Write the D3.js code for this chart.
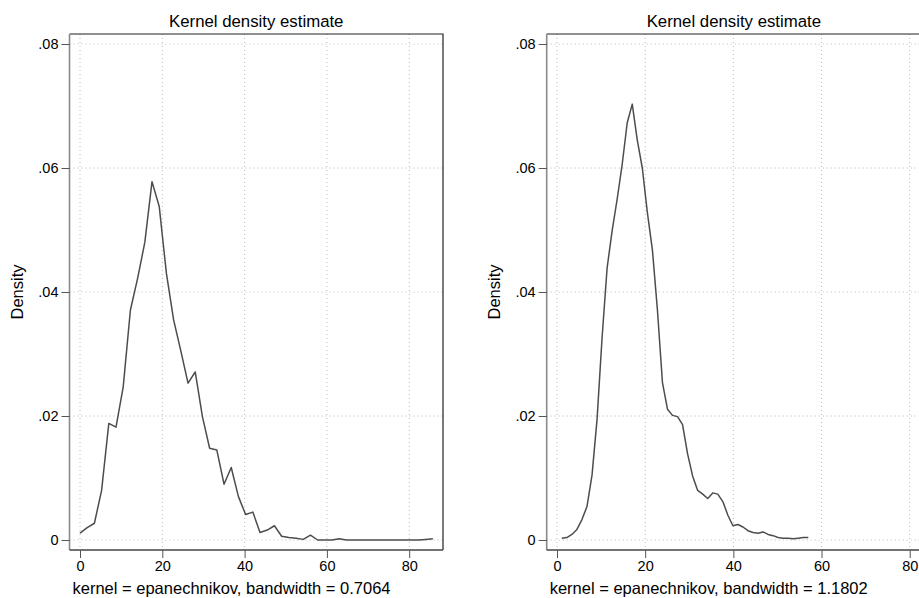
<!DOCTYPE html>
<html lang="en">
<head>
  <meta charset="UTF-8">
  <title>Kernel density estimate</title>
  <style>
    body {
      margin: 0;
      padding: 0;
      background: #ffffff;
      font-family: 'Liberation Sans', Arial, Helvetica, sans-serif;
    }
    svg { display: block; }
    .grid line { stroke: #b8b8b8; stroke-width: 1; stroke-dasharray: 1 3; }
  </style>
</head>
<body>

<svg width="919" height="598"></svg>

<script src="https://d3js.org/d3.v7.min.js"></script>
<script>
  const width = 919, height = 598;

  // left panel: bandwidth 0.7064
  const leftX = [0, 1.75, 3.5, 5.25, 7, 8.75, 10.5, 12.25, 14, 15.75,
    17.5, 19.25, 21, 22.75, 24.5, 26.25, 28, 29.75, 31.5, 33.25,
    35, 36.75, 38.5, 40.25, 42, 43.75, 45.5, 47.25, 49, 50.75,
    52.5, 54.25, 56, 57.75, 59.5, 61.25, 63, 64.75, 66.5, 68.25,
    70, 71.75, 73.5, 75.25, 77, 78.75, 80.5, 82.25, 84, 85.75];
  const leftDensity = [0.0011, 0.0020, 0.0027, 0.0080, 0.0188, 0.0182, 0.0247, 0.0371, 0.0422, 0.0480,
    0.0578, 0.0538, 0.0430, 0.0355, 0.0305, 0.0253, 0.0271, 0.0199, 0.0148, 0.0145,
    0.0090, 0.0117, 0.0070, 0.0041, 0.0045, 0.0012, 0.0016, 0.0023, 0.0006, 0.0004,
    0.0003, 0.0001, 0.0008, 0.0000, 0.0000, 0.0000, 0.0002, 0.0000, 0.0000, 0.0000,
    0.0000, 0.0000, 0.0000, 0.0000, 0.0000, 0.0000, 0.0000, 0.0000, 0.0001, 0.0002];

  // right panel: bandwidth 1.1802
  const rightX = [1.10, 2.24, 3.38, 4.52, 5.66, 6.80, 7.95, 9.09, 10.23, 11.37,
    12.51, 13.65, 14.79, 15.93, 17.07, 18.21, 19.35, 20.50, 21.64, 22.78,
    23.92, 25.06, 26.20, 27.34, 28.48, 29.62, 30.77, 31.91, 33.05, 34.19,
    35.33, 36.47, 37.61, 38.76, 39.90, 41.04, 42.18, 43.32, 44.46, 45.60,
    46.74, 47.88, 49.02, 50.16, 51.30, 52.44, 53.58, 54.72, 55.86, 57.00];
  const rightDensity = [0.0003, 0.0004, 0.0009, 0.0017, 0.0033, 0.0054, 0.0105, 0.0195, 0.0327, 0.0439,
    0.0499, 0.0550, 0.0606, 0.0673, 0.0703, 0.0645, 0.0600, 0.0528, 0.0468, 0.0371,
    0.0254, 0.0211, 0.0201, 0.0199, 0.0186, 0.0139, 0.0103, 0.0080, 0.0074, 0.0067,
    0.0076, 0.0074, 0.0062, 0.0040, 0.0023, 0.0025, 0.0021, 0.0015, 0.0012, 0.0011,
    0.0013, 0.0009, 0.0007, 0.0004, 0.0003, 0.0003, 0.0002, 0.0003, 0.0004, 0.0004];

  const xTicks = [0, 20, 40, 60, 80];
  const yTicks = [0, 0.02, 0.04, 0.06, 0.08];
  const yTickLabels = ["0", ".02", ".04", ".06", ".08"];

  const panels = [
    { xs: leftX, ys: leftDensity, note: "kernel = epanechnikov, bandwidth = 0.7064",
      frameL: 69.5, frameR: 443, x0: 80, x80: 409.2 },
    { xs: rightX, ys: rightDensity, note: "kernel = epanechnikov, bandwidth = 1.1802",
      frameL: 546.7, frameR: 921, x0: 557, x80: 909.7 }
  ];

  const frameTop = 34, frameBottom = 550;
  const font = "'Liberation Sans', Arial, sans-serif";
  const svg = d3.select("svg");

  panels.forEach(p => {
    const g = svg.append("g");
    const x = d3.scaleLinear().domain([0, 80]).range([p.x0, p.x80]);
    const y = d3.scaleLinear().domain([0, 0.08]).range([540, 44]);

    // gridlines
    const grid = g.append("g").attr("class", "grid");
    grid.selectAll("line.v").data(xTicks).enter().append("line")
      .attr("x1", d => x(d)).attr("x2", d => x(d))
      .attr("y1", frameTop).attr("y2", frameBottom);
    grid.selectAll("line.h").data(yTicks).enter().append("line")
      .attr("x1", p.frameL).attr("x2", p.frameR)
      .attr("y1", d => y(d)).attr("y2", d => y(d));

    // frame (top / right)
    g.append("path")
      .attr("d", `M${p.frameL},${frameTop}H${p.frameR}V${frameBottom}`)
      .attr("fill", "none").attr("stroke", "#222").attr("stroke-width", 1.2);

    // y axis
    const yAxis = g.append("g")
      .attr("transform", `translate(${p.frameL},0)`)
      .call(d3.axisLeft(y).tickValues(yTicks).tickSize(8).tickPadding(3)
        .tickFormat((d, i) => yTickLabels[i]));
    yAxis.select(".domain").attr("d", `M0,${frameTop}V${frameBottom}`)
      .attr("stroke", "#8a8a8a").attr("stroke-width", 1.6);
    yAxis.selectAll(".tick line").attr("stroke", "#555");
    yAxis.selectAll(".tick text").attr("fill", "#000")
      .style("font-family", font).style("font-size", "14.5px");

    // x axis
    const xAxis = g.append("g")
      .attr("transform", `translate(0,${frameBottom})`)
      .call(d3.axisBottom(x).tickValues(xTicks).tickSize(8).tickPadding(3));
    xAxis.select(".domain").attr("d", `M${p.frameL},0H${p.frameR}`)
      .attr("stroke", "#444").attr("stroke-width", 1.4);
    xAxis.selectAll(".tick line").attr("stroke", "#555");
    xAxis.selectAll(".tick text").attr("fill", "#000")
      .style("font-family", font).style("font-size", "14.5px");

    // density line
    const line = d3.line().x((d, i) => x(p.xs[i])).y(d => y(d));
    g.append("path")
      .datum(p.ys)
      .attr("d", line)
      .attr("fill", "none")
      .attr("stroke", "#4d4d4d")
      .attr("stroke-width", 1.5)
      .attr("stroke-linejoin", "round");

    // title
    g.append("text")
      .attr("x", (p.frameL + p.frameR) / 2).attr("y", 27)
      .attr("text-anchor", "middle")
      .style("font-size", "16.8px")
      .text("Kernel density estimate");

    // y title
    g.append("text")
      .attr("transform", `translate(${p.frameL - 47},${(frameTop + frameBottom) / 2}) rotate(-90)`)
      .attr("text-anchor", "middle")
      .style("font-size", "16.5px")
      .text("Density");

    // note
    g.append("text")
      .attr("x", p.frameL + 3).attr("y", 594)
      .style("font-size", "16.5px")
      .text(p.note);
  });
</script>

</body>
</html>
